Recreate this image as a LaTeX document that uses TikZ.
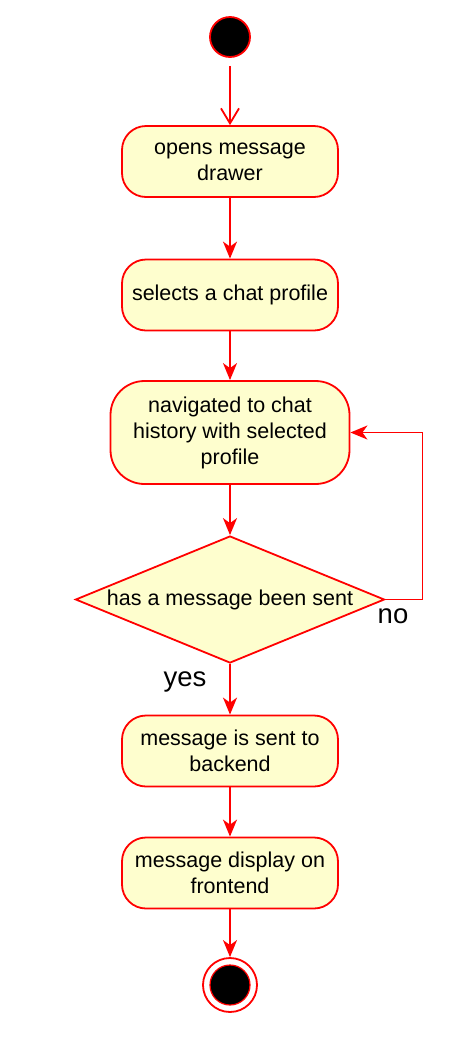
\documentclass[tikz,border=0pt]{standalone}
\usepackage{fontspec}
\setmainfont{Liberation Sans}
\usetikzlibrary{shapes.geometric, arrows.meta}
\definecolor{rojo}{HTML}{FF0000}
\definecolor{crema}{HTML}{FEFECE}

\begin{document}
\begin{tikzpicture}[x=1pt, y=-1pt,
  accion/.style={draw=rojo, fill=crema, line width=1.8pt, rounded corners=24pt,
    align=center, inner sep=0pt, minimum width=216pt, minimum height=71pt,
    font=\fontsize{21.5}{26}\selectfont},
  flecha/.style={draw=rojo, line width=1.8pt, -{Stealth[length=17pt, width=14pt, inset=5pt]}},
  etiqueta/.style={font=\fontsize{27.5}{30}\selectfont, inner sep=0pt, anchor=base}]

\useasboundingbox (0,0) rectangle (470,1042);

% Inicio
\node[circle, draw=rojo, fill=black, line width=1.8pt, minimum size=40pt, inner sep=0pt] (inicio) at (230,37) {};

% Acciones
\node[accion] (abre) at (230,161.5) {opens message\\drawer};
\node[accion] (elige) at (230,295) {selects a chat profile};
\node[accion, rounded corners=34pt, minimum width=239pt, minimum height=103pt] (historial) at (230,432.5) {navigated to chat\\history with selected\\profile};

% Decision
\node[diamond, aspect=2.43, draw=rojo, fill=crema, line width=1.8pt, inner sep=0pt, minimum width=309pt, minimum height=127pt,
  font=\fontsize{21.5}{26}\selectfont] (enviado) at (230,599.5) {has a message been sent};

\node[accion] (backend) at (230,751) {message is sent to\\backend};
\node[accion] (frontend) at (230,873) {message display on\\frontend};

% Fin
\node[circle, draw=rojo, line width=1.8pt, minimum size=54pt, inner sep=0pt] (fin) at (230,985) {};
\node[circle, draw=rojo, fill=black, line width=1.2pt, minimum size=40pt, inner sep=0pt] at (fin) {};

% Flechas
\draw[draw=rojo, line width=1.8pt, -{Straight Barb[length=15pt, width=18pt]}] ([yshift=-8pt]inicio.south) -- (abre.north);
\draw[flecha] (abre) -- (elige);
\draw[flecha] (elige) -- (historial);
\draw[flecha] (historial) -- (enviado);
\draw[flecha] (enviado) -- (backend);
\draw[flecha] (backend) -- (frontend);
\draw[flecha] (frontend) -- (fin);

% Bucle no
\draw[flecha, rounded corners=0pt] (enviado.east) -- ++(37,0) |- (historial.east);

% Etiquetas
\node[etiqueta] (no) at (393,623) {no};
\node[etiqueta] (si) at (185,686) {yes};

\end{tikzpicture}
\end{document}
